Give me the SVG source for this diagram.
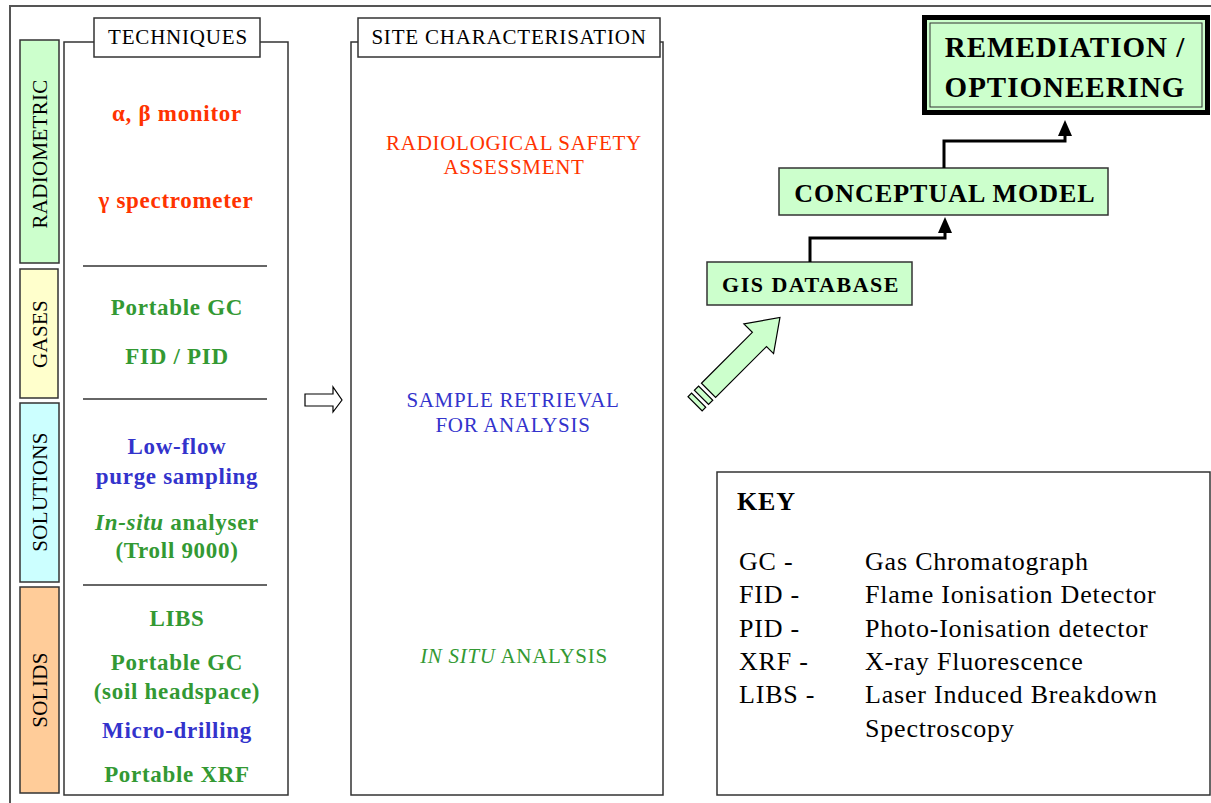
<svg xmlns="http://www.w3.org/2000/svg" width="1211" height="803" viewBox="0 0 1211 803">
  <style>
    text { font-family: "Liberation Serif", "Times New Roman", serif; }
    .frame { fill: none; stroke: #555555; stroke-width: 2; }
    .box { fill: #ffffff; stroke: #333333; stroke-width: 1.5; }
    .title { font-size: 21px; fill: #000000; text-anchor: middle; letter-spacing: 0.8px; }
    .cat { stroke: #333333; stroke-width: 1.5; }
    .catlabel { font-size: 21px; fill: #000000; text-anchor: middle; letter-spacing: 0.3px; }
    .sep { stroke: #333333; stroke-width: 1.5; }
    .tech { font-size: 23px; font-weight: bold; text-anchor: middle; letter-spacing: 0.7px; }
    .site { font-size: 21px; text-anchor: middle; letter-spacing: 0.7px; }
    .red { fill: #ff3300; }
    .green { fill: #339933; }
    .blue { fill: #3333cc; }
    .stage { fill: #ccffcc; stroke: #333333; stroke-width: 1.5; }
    .stagetext { font-weight: bold; fill: #000000; text-anchor: middle; }
    .link { fill: none; stroke: #000000; stroke-width: 3; }
    .key { font-size: 26px; fill: #000000; letter-spacing: 0.8px; }
  </style>

  <rect width="1211" height="803" fill="#ffffff"/>

  <!-- outer frame (top and left edges) -->
  <path class="frame" d="M10,803 L10,6 L1211,6"/>

  <!-- category bars -->
  <g id="cat-radiometric">
    <rect class="cat" x="20" y="40" width="39" height="223" fill="#ccffcc"/>
    <text class="catlabel" transform="translate(47,154) rotate(-90)">RADIOMETRIC</text>
  </g>
  <g id="cat-gases">
    <rect class="cat" x="20" y="269" width="38" height="129" fill="#ffffcc"/>
    <text class="catlabel" transform="translate(47,334) rotate(-90)">GASES</text>
  </g>
  <g id="cat-solutions">
    <rect class="cat" x="20" y="403" width="39" height="179" fill="#ccffff"/>
    <text class="catlabel" transform="translate(47,492) rotate(-90)">SOLUTIONS</text>
  </g>
  <g id="cat-solids">
    <rect class="cat" x="20" y="587" width="39" height="206" fill="#ffcc99"/>
    <text class="catlabel" transform="translate(47,690) rotate(-90)">SOLIDS</text>
  </g>

  <!-- techniques panel -->
  <g id="techniques">
    <rect class="box" x="64" y="42" width="224" height="753"/>
    <rect class="box" x="94" y="18" width="166" height="39"/>
    <text class="title" x="178" y="44">TECHNIQUES</text>
    <line class="sep" x1="83" y1="266" x2="267" y2="266"/>
    <line class="sep" x1="83" y1="399" x2="267" y2="399"/>
    <line class="sep" x1="83" y1="585" x2="267" y2="585"/>
    <text class="tech red" x="177" y="121">α, β monitor</text>
    <text class="tech red" x="176" y="208">γ spectrometer</text>
    <text class="tech green" x="177" y="315">Portable GC</text>
    <text class="tech green" x="177" y="364">FID / PID</text>
    <text class="tech blue" x="177" y="454">Low-flow</text>
    <text class="tech blue" x="177" y="484">purge sampling</text>
    <text class="tech green" x="177" y="530"><tspan font-style="italic">In-situ</tspan> analyser</text>
    <text class="tech green" x="177" y="558">(Troll 9000)</text>
    <text class="tech green" x="177" y="626">LIBS</text>
    <text class="tech green" x="177" y="670">Portable GC</text>
    <text class="tech green" x="177" y="699">(soil headspace)</text>
    <text class="tech blue" x="177" y="738">Micro-drilling</text>
    <text class="tech green" x="177" y="782">Portable XRF</text>
  </g>

  <!-- site characterisation panel -->
  <g id="site-characterisation">
    <rect class="box" x="351" y="42" width="312" height="753"/>
    <rect class="box" x="358" y="18" width="302" height="39"/>
    <text class="title" x="509" y="44">SITE CHARACTERISATION</text>
    <text class="site red" x="514" y="150">RADIOLOGICAL SAFETY</text>
    <text class="site red" x="514" y="174">ASSESSMENT</text>
    <text class="site blue" x="513" y="407">SAMPLE RETRIEVAL</text>
    <text class="site blue" x="513" y="432">FOR ANALYSIS</text>
    <text class="site green" x="514" y="663"><tspan font-style="italic">IN SITU</tspan> ANALYSIS</text>
  </g>

  <!-- process stages -->
  <g id="gis-database">
    <rect class="stage" x="707" y="262" width="205" height="43"/>
    <text class="stagetext" x="811" y="292" font-size="22" letter-spacing="1.5">GIS DATABASE</text>
  </g>
  <g id="conceptual-model">
    <rect class="stage" x="779" y="168" width="329" height="47"/>
    <text class="stagetext" x="945" y="202" font-size="26" letter-spacing="1">CONCEPTUAL MODEL</text>
  </g>
  <g id="remediation">
    <rect x="924.5" y="17.5" width="283" height="95" fill="#ccffcc" stroke="#000000" stroke-width="5"/>
    <rect x="930" y="23" width="272" height="84" fill="none" stroke="#333333" stroke-width="1"/>
    <text class="stagetext" x="1065" y="57" font-size="29" letter-spacing="1">REMEDIATION /</text>
    <text class="stagetext" x="1065" y="97" font-size="29" letter-spacing="1">OPTIONEERING</text>
  </g>

  <!-- key -->
  <g id="key">
    <rect class="box" x="717" y="472" width="493" height="323"/>
    <text class="key" x="737" y="510" font-weight="bold" font-size="25">KEY</text>
    <text class="key" x="739" y="570">GC -</text>
    <text class="key" x="865" y="570">Gas Chromatograph</text>
    <text class="key" x="739" y="603">FID -</text>
    <text class="key" x="865" y="603">Flame Ionisation Detector</text>
    <text class="key" x="739" y="637">PID -</text>
    <text class="key" x="865" y="637">Photo-Ionisation detector</text>
    <text class="key" x="739" y="670">XRF -</text>
    <text class="key" x="865" y="670">X-ray Fluorescence</text>
    <text class="key" x="739" y="703">LIBS -</text>
    <text class="key" x="865" y="703">Laser Induced Breakdown</text>
    <text class="key" x="865" y="737">Spectroscopy</text>
  </g>

  <!-- connectors -->
  <g id="connectors">
    <!-- hollow arrow: techniques to site characterisation -->
    <path d="M305,394 L333,394 L333,387 L342,400 L333,412 L333,406 L305,406 Z" fill="#ffffff" stroke="#000000" stroke-width="1.2"/>
    <!-- striped block arrow: site characterisation to GIS database -->
    <g transform="rotate(-45)" fill="#ccffcc" stroke="#000000" stroke-width="1.2">
      <path d="M225,767 L297,767 L297,755 L327,776 L297,797 L297,787 L225,787 Z"/>
      <rect x="215" y="767" width="6" height="20"/>
      <rect x="206" y="767" width="5" height="20"/>
    </g>
    <!-- stepped links between stages -->
    <path class="link" d="M810,262 L810,238 L945,238 L945,222"/>
    <path d="M938,233 L945,217 L952,233 Z" fill="#000000"/>
    <path class="link" d="M944,168 L944,141 L1065,141 L1065,126"/>
    <path d="M1058,136 L1065,120 L1072,136 Z" fill="#000000"/>
  </g>
</svg>
